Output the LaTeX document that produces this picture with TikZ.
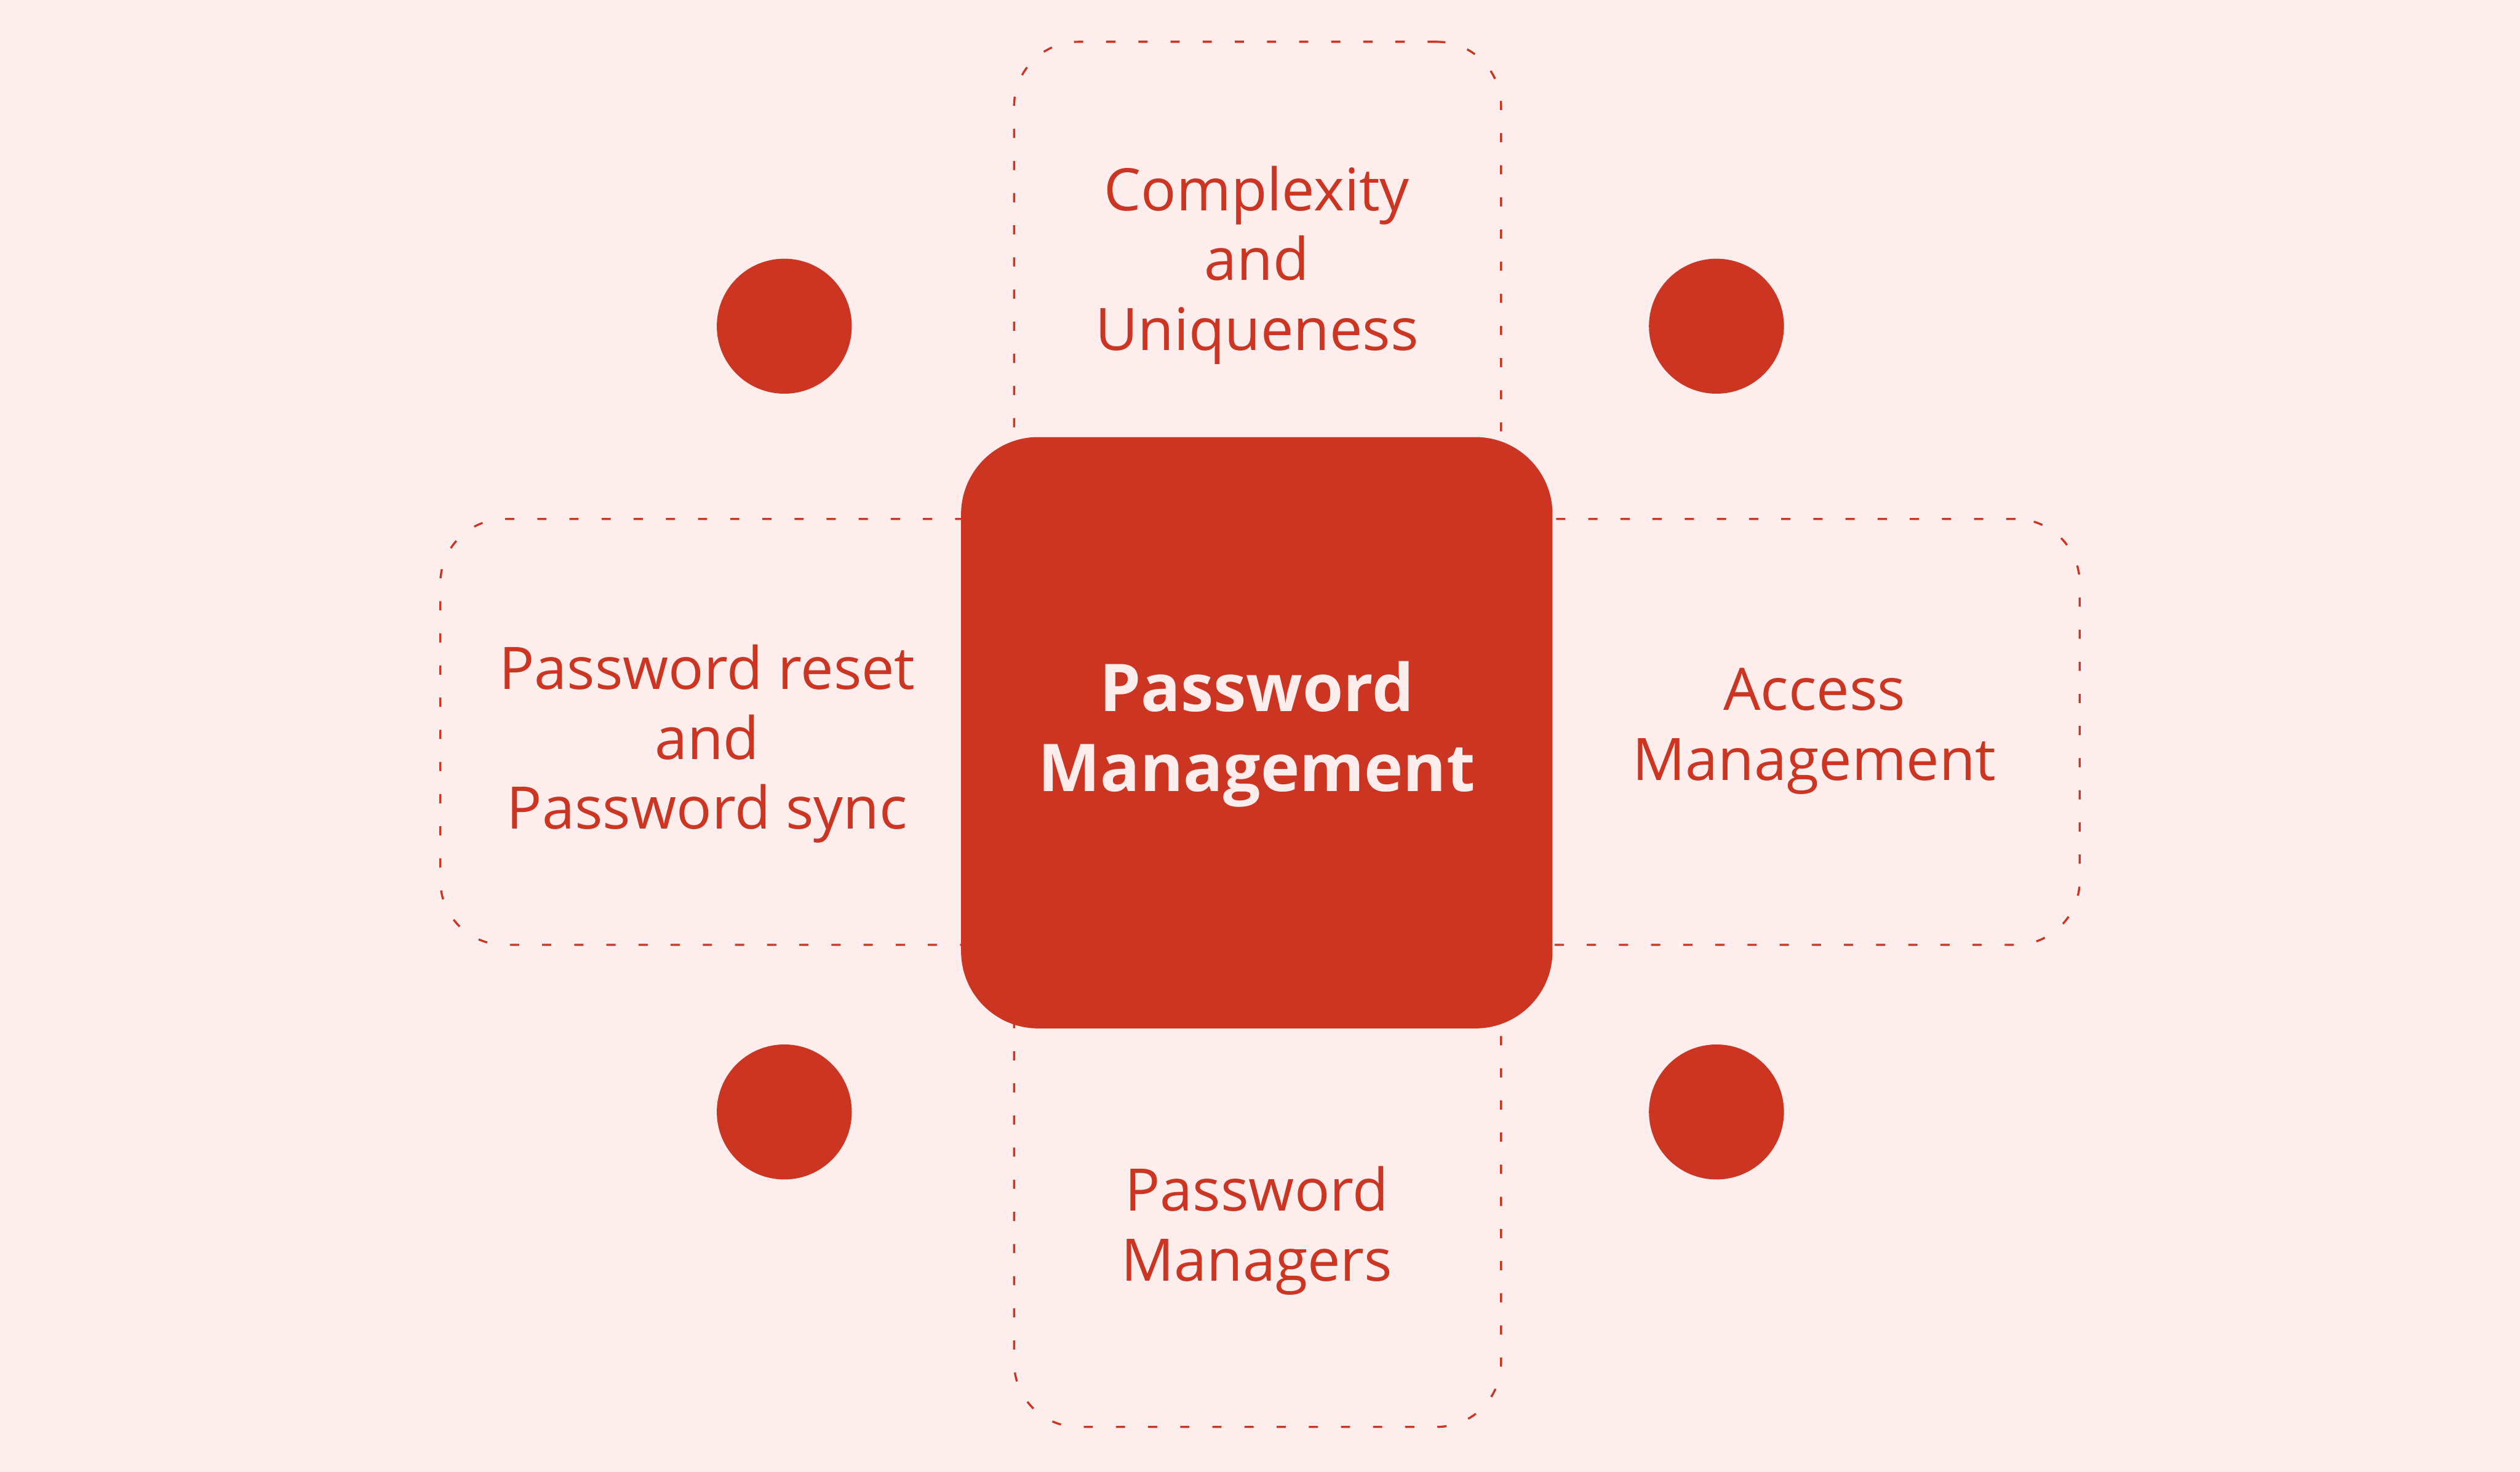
\documentclass[tikz,border=0pt]{standalone}
\usepackage{fontspec}
\setmainfont{Open Sans}
\definecolor{bgpink}{HTML}{FDEDED}
\definecolor{brick}{HTML}{CC3521}
\begin{document}
\begin{tikzpicture}[x=1pt,y=-1pt,
  dashbox/.style={draw=brick, line width=1.3pt, dash pattern=on 5.7pt off 14.3pt,
    rounded corners=40pt, minimum width=#1, inner sep=0pt},
  dot/.style={circle, fill=brick, minimum size=84pt, inner sep=0pt},
  lbl/.style={text=brick, align=center, font=\fontsize{36.5}{43.5}\selectfont},
  hub/.style={fill=brick, rounded corners=48pt, minimum width=368pt, minimum height=368pt, inner sep=0pt}]
\fill[bgpink] (0,0) rectangle (1568,916);
\useasboundingbox (0,0) rectangle (1568,916);
% dashed frames
\node[dashbox=303pt, minimum height=374pt] (topbox) at (782.5,213) {};
\node[dashbox=303pt, minimum height=388pt] (botbox) at (782.5,694) {};
\node[dashbox=426pt, minimum height=265pt] (leftbox) at (487,455.5) {};
\node[dashbox=428pt, minimum height=265pt] (rightbox) at (1080,455.5) {};
% hub
\node[hub] (hubsq) at (782,456) {};
\node[text=bgpink, align=center, font=\bfseries\fontsize{41}{50}\selectfont] (hubtxt) at (782,457) {Password\\Management};
% labels
\node[lbl] (toptxt) at (782,165) {Complexity\\and\\Uniqueness};
\node[lbl] (lefttxt) at (440,463) {Password reset\\and\\Password sync};
\node[lbl] (righttxt) at (1129,455) {Access\\Management};
\node[lbl] (bottxt) at (782,766) {Password\\Managers};
% dots
\node[dot] (d1) at (488,203) {};
\node[dot] (d2) at (1068,203) {};
\node[dot] (d3) at (488,692) {};
\node[dot] (d4) at (1068,692) {};
\end{tikzpicture}
\end{document}
